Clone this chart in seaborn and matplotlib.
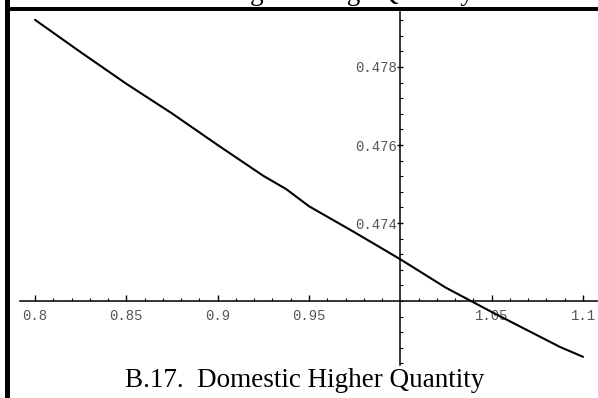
import numpy as np
import pandas as pd
import matplotlib
matplotlib.use("Agg")
import matplotlib.pyplot as plt
from matplotlib.patches import Rectangle
import seaborn as sns

# -----------------------------
# Datos
# -----------------------------
precio = [0.8, 0.825, 0.85, 0.875, 0.9, 0.925, 0.9375, 0.95, 0.975,
          1.0, 1.025, 1.05, 1.075, 1.0875, 1.1]
cantidad = [0.47921, 0.47838, 0.47757, 0.47681, 0.47600, 0.47521, 0.47487,
            0.47443, 0.47376, 0.47307, 0.47234, 0.47172, 0.47112, 0.47082,
            0.47057]

x_ticks = [0.8, 0.85, 0.9, 0.95, 1.05, 1.1]
x_labels = ["0.8", "0.85", "0.9", "0.95", "1.05", "1.1"]
y_ticks = [0.474, 0.476, 0.478]
y_labels = ["0.474", "0.476", "0.478"]

titulo_arriba = "B.16.  Foreign Average Quantity"
titulo_abajo = "B.17.  Domestic Higher Quantity"

df = pd.DataFrame({"precio": precio, "cantidad": cantidad})

sns.set_theme(style="white")
W, H = 598, 398
fig = plt.figure(figsize=(W / 100, H / 100), dpi=100)
ax = fig.add_axes([20 / W, 33 / H, 578 / W, 353 / H])
ax.patch.set_alpha(0)

sns.lineplot(data=df, x="precio", y="cantidad", ax=ax, color="black",
             linewidth=1.5)

ax.set_xlim(0.79179, 1.10821)
ax.set_ylim(0.47036, 0.47941)
ax.set_xlabel("")
ax.set_ylabel("")

# ejes estilo Mathematica cruzando en (1, 0.472)
ax.spines["left"].set_position(("data", 1.0))
ax.spines["bottom"].set_position(("data", 0.472))
ax.spines["top"].set_visible(False)
ax.spines["right"].set_visible(False)
for s in ["left", "bottom"]:
    ax.spines[s].set_color("black")
    ax.spines[s].set_linewidth(1.1)

ax.set_xticks(x_ticks)
ax.set_xticklabels(x_labels)
ax.set_xticks([v for v in np.round(np.arange(0.8, 1.1001, 0.01), 3)
               if v not in x_ticks and v != 1.0], minor=True)
ax.set_yticks(y_ticks)
ax.set_yticklabels(y_labels)
ax.set_yticks([v for v in np.round(np.arange(0.4704, 0.4794, 0.0004), 4)
               if v not in y_ticks], minor=True)

for lab in ax.get_xticklabels() + ax.get_yticklabels():
    lab.set_fontfamily("Liberation Mono")
    lab.set_fontsize(10)
    lab.set_color("#555555")

ax.tick_params(axis="x", which="major", direction="in", length=4, width=1,
               color="black", pad=6, bottom=True)
ax.tick_params(axis="x", which="minor", direction="in", length=2, width=0.8,
               color="black", bottom=True)
ax.tick_params(axis="y", which="major", direction="inout", length=4, width=1,
               color="black", pad=0.5, left=True)
ax.tick_params(axis="y", which="minor", direction="in", length=2, width=0.8,
               color="black", left=True)

# marco grueso
fig.add_artist(Rectangle((5 / W, 0), 5 / W, 1, transform=fig.transFigure,
                         color="black", lw=0))
fig.add_artist(Rectangle((5 / W, (H - 11) / H), (W - 5) / W, 4 / H,
                         transform=fig.transFigure, color="black", lw=0))

# título superior cortado, como en la imagen original
fig.text(297 / W, (H + 0.5) / H, titulo_arriba, ha="center", va="baseline",
         family="Liberation Serif", fontsize=19.5, color="black")
fig.text(305 / W, 11 / H, titulo_abajo, ha="center", va="baseline",
         family="Liberation Serif", fontsize=19.5, color="black")

fig.savefig("out.png", dpi=100)
